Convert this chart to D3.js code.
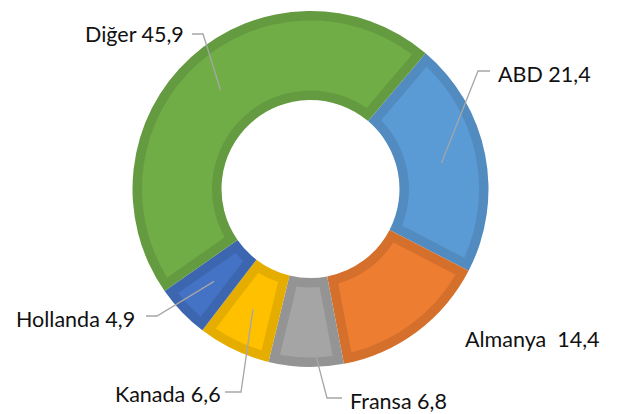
<!DOCTYPE html>
<html>
<head>
<meta charset="utf-8">
<script src="https://cdn.jsdelivr.net/npm/d3@7"></script>
<style>
  body { margin: 0; background: #fff; }
  svg { display: block; }
  .label { font-family: Lato, "Open Sans", sans-serif; font-size: 21.5px; fill: #111; white-space: pre; }
  .leader { fill: none; stroke: #a6a6a6; stroke-width: 1.3; }
</style>
</head>
<body>
<div id="chart"><svg></svg></div>
<script>
const countries = ["ABD", "Almanya", "Fransa", "Kanada", "Hollanda", "Diğer"];
const shares = [21.4, 14.4, 6.8, 6.6, 4.9, 45.9];
const colors = ["#5B9BD5", "#ED7D31", "#A5A5A5", "#FFC000", "#4472C4", "#70AD47"];

// label layout (text left/baseline, leader elbow, leader tail x)
const labelAt = [[498, 81.5], [465, 347], [350, 409], [115, 401.5], [16, 326.5], [85, 41.5]];
const elbowAt = [[478, 71], null, [327, 398], [241, 392], [157, 316], [203, 34]];
const tailX = [490, null, 342, 225, 146, 192];

const width = 620;
const height = 414;
const cx = 310.5, cy = 189;
const outerR = 178, innerR = 89;
const band = 9.5;
const startAngle = 40.3 * Math.PI / 180;

const svg = d3.select("#chart svg")
    .attr("width", width)
    .attr("height", height);

const tr = d3.formatLocale({ decimal: ",", thousands: ".", grouping: [3], currency: ["", ""] });
const fmt = tr.format(".1f");

const pie = d3.pie()
    .sort(null)
    .value(function(d) { return d; })
    .startAngle(startAngle)
    .endAngle(startAngle + 2 * Math.PI);

const arcs = pie(shares);

const outerArc = d3.arc()
    .innerRadius(innerR)
    .outerRadius(outerR);

const midR = (innerR + outerR) / 2;
const innerArc = d3.arc()
    .innerRadius(innerR + band)
    .outerRadius(outerR - band)
    .padRadius(midR)
    .padAngle(2 * band / midR);

const g = svg.append("g")
    .attr("transform", `translate(${cx},${cy})`);

const slices = g.selectAll("g.slice")
    .data(arcs)
    .enter()
    .append("g")
    .attr("class", "slice");

slices.append("path")
    .attr("d", outerArc)
    .attr("fill", function(d, i) { return d3.color(colors[i]).darker(0.3); });

slices.append("path")
    .attr("d", innerArc)
    .attr("fill", function(d, i) { return colors[i]; });

// leader lines
arcs.forEach(function(d, i) {
    if (!elbowAt[i]) return;
    const c = outerArc.centroid(d);
    const pts = [
        [c[0] + cx, c[1] + cy],
        elbowAt[i],
        [tailX[i], elbowAt[i][1]]
    ];
    svg.append("path")
        .attr("class", "leader")
        .attr("d", d3.line()(pts));
});

// labels
svg.selectAll("text.label")
    .data(arcs)
    .enter()
    .append("text")
    .attr("class", "label")
    .attr("x", function(d, i) { return labelAt[i][0]; })
    .attr("y", function(d, i) { return labelAt[i][1]; })
    .text(function(d, i) {
        const sep = countries[i] === "Almanya" ? "  " : " ";
        return countries[i] + sep + fmt(d.data);
    });
</script>
</body>
</html>
